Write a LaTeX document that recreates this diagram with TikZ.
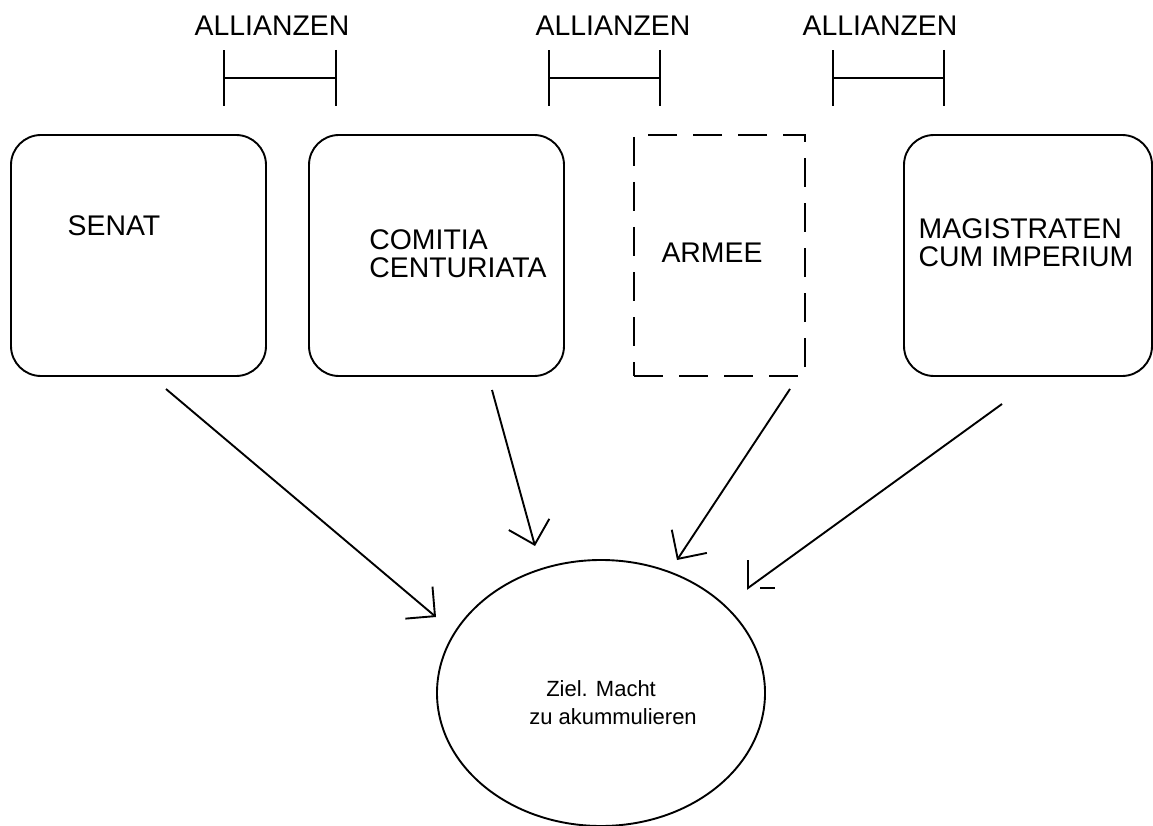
\documentclass[tikz,border=0pt]{standalone}
\usepackage{fontspec}
\setmainfont{Liberation Sans}
\usetikzlibrary{arrows.meta,shapes.geometric}
\begin{document}
\begin{tikzpicture}[x=1pt,y=-1pt,
  every node/.style={inner sep=0pt,outer sep=0pt},
  boxframe/.style={draw,line width=1.9pt,rounded corners=30pt},
  dashframe/.style={draw,line width=1.9pt,dash pattern=on 29pt off 16pt},
  lbl/.style={font=\fontsize{28.4}{28}\selectfont,align=left},
  small/.style={font=\fontsize{22}{28}\selectfont,align=left},
  link/.style={line width=1.9pt,-{Straight Barb[length=21pt,width=42pt,line width=1.9pt]}},
  ally/.style={line width=1.9pt,{Bar[width=56pt,line width=1.9pt]}-{Bar[width=56pt,line width=1.9pt]}}]
\useasboundingbox (0,0) rectangle (1153,826);

% the four bodies
\node[boxframe,minimum width=255pt,minimum height=241pt] (senat) at (138.5,255.5) {};
\node[boxframe,minimum width=255pt,minimum height=241pt] (comitia) at (436.5,255.5) {};
\node[dashframe,minimum width=171pt,minimum height=241pt] (armee) at (719.5,255.5) {};
\node[boxframe,minimum width=248pt,minimum height=241pt] (magis) at (1028,255.5) {};

\node[lbl] (tsenat) at (114,226) {SENAT};
\node[lbl] (tcomitia) at (458,254) {COMITIA\\CENTURIATA};
\node[lbl] (tarmee) at (712,253) {ARMEE};
\node[lbl] (tmagis) at (1026,243) {MAGISTRATEN\\CUM IMPERIUM};

% goal
\node[draw,ellipse,line width=1.9pt,minimum width=328pt,minimum height=266pt] (ziel) at (601,693) {};
\node[small] (tziel) at (613,703) {\hspace{17pt}Ziel. Macht\\zu akummulieren};

% alliances
\node[lbl] (a1) at (272,26) {ALLIANZEN};
\node[lbl] (a2) at (613,26) {ALLIANZEN};
\node[lbl] (a3) at (880,26) {ALLIANZEN};
\coordinate (b1l) at (223,78); \coordinate (b1r) at (337,78);
\coordinate (b2l) at (548,78); \coordinate (b2r) at (661,78);
\coordinate (b3l) at (832,78); \coordinate (b3r) at (945,78);
\draw[ally] (b1l) -- (b1r);
\draw[ally] (b2l) -- (b2r);
\draw[ally] (b3l) -- (b3r);

% influence arrows towards the goal
\coordinate (s1) at (166,389); \coordinate (e1) at (436,617);
\coordinate (s2) at (492,390); \coordinate (e2) at (535,546);
\coordinate (s3) at (790,389); \coordinate (e3) at (677,560);
\coordinate (s4) at (1002,404); \coordinate (e4) at (748,588);
\draw[link] (s1) -- (e1);
\draw[link] (s2) -- (e2);
\draw[link] (s3) -- (e3);
\draw[line width=1.9pt] (s4) -- (e4) -- ++(0,-28);
\draw[line width=1.9pt] (760,588) -- (775,588);
\end{tikzpicture}
\end{document}
